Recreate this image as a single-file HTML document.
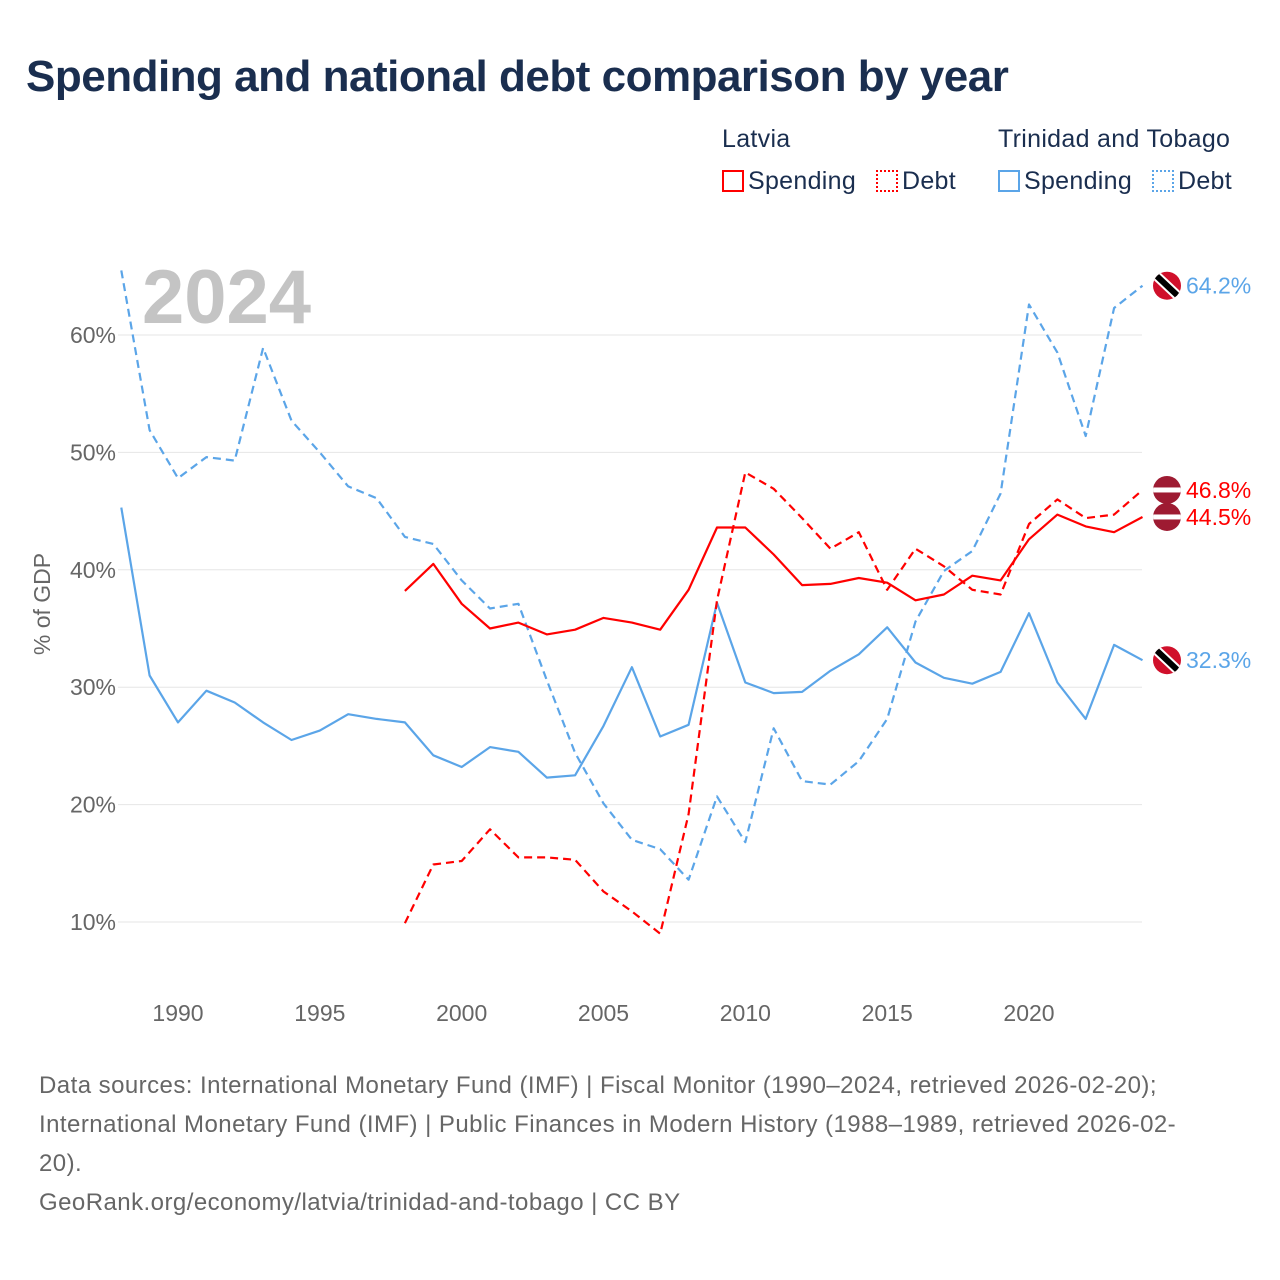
<!DOCTYPE html>
<html><head><meta charset="utf-8"><style>
body{margin:0;background:#fff;font-family:"Liberation Sans",sans-serif;}
#wrap{position:relative;width:1280px;height:1280px;overflow:hidden;}
h1{position:absolute;left:26px;top:52px;margin:0;font-size:44px;font-weight:bold;color:#1a2e4f;letter-spacing:-0.5px;}
.lg{position:absolute;font-size:25px;color:#1a2e4f;letter-spacing:0.3px;}
.box{display:inline-block;width:22px;height:22px;vertical-align:-3px;margin-right:4px;box-sizing:border-box;}
.foot{position:absolute;left:39px;top:1066px;font-size:24px;line-height:39px;color:#666;width:1240px;white-space:nowrap;letter-spacing:0.45px;}
</style></head><body>
<div id="wrap">
<h1>Spending and national debt comparison by year</h1>
<div class="lg" style="left:722px;top:125px">Latvia</div>
<div class="lg" style="left:998px;top:125px">Trinidad and Tobago</div>
<div class="lg" style="left:722px;top:167px"><span class="box" style="border:2px solid #f00"></span>Spending</div>
<div class="lg" style="left:876px;top:167px"><span class="box" style="border:2px dotted #f00"></span>Debt</div>
<div class="lg" style="left:998px;top:167px"><span class="box" style="border:2px solid #5ba5e8"></span>Spending</div>
<div class="lg" style="left:1152px;top:167px"><span class="box" style="border:2px dotted #5ba5e8"></span>Debt</div>
<svg id="chart" width="1280" height="1280" style="position:absolute;left:0;top:0"></svg>
<div class="foot">Data sources: International Monetary Fund (IMF) | Fiscal Monitor (1990–2024, retrieved 2026-02-20);<br>International Monetary Fund (IMF) | Public Finances in Modern History (1988–1989, retrieved 2026-02-<br>20).<br>GeoRank.org/economy/latvia/trinidad-and-tobago | CC BY</div>
</div>
<script>
const ttDebt=[65.5,51.9,47.8,49.6,49.3,58.9,52.7,50.0,47.1,46.1,42.8,42.2,39.1,36.7,37.1,30.6,24.4,20.1,17.0,16.2,13.6,20.7,16.8,26.5,22.0,21.7,23.7,27.3,35.6,39.9,41.6,46.5,62.6,58.5,51.4,62.3,64.2];
const ttSpend=[45.3,31.0,27.0,29.7,28.7,27.0,25.5,26.3,27.7,27.3,27.0,24.2,23.2,24.9,24.5,22.3,22.5,26.7,31.7,25.8,26.8,37.2,30.4,29.5,29.6,31.4,32.8,35.1,32.1,30.8,30.3,31.3,36.3,30.4,27.3,33.6,32.3];
const lvSpend=[38.2,40.5,37.1,35.0,35.5,34.5,34.9,35.9,35.5,34.9,38.3,43.6,43.6,41.3,38.7,38.8,39.3,38.9,37.4,37.9,39.5,39.1,42.6,44.7,43.7,43.2,44.5];
const lvDebt=[9.9,14.9,15.2,17.9,15.5,15.5,15.3,12.6,10.9,9.0,19.2,37.4,48.3,46.9,44.4,41.8,43.2,38.3,41.8,40.3,38.3,37.9,43.9,46.0,44.4,44.7,46.8];
const yTicks=[10,20,30,40,50,60];
const xTicks=[1990,1995,2000,2005,2010,2015,2020];
const X=y=>178+(y-1990)*(1029-178)/30;
const Y=v=>922-(v-10)*11.74;
const svg=document.getElementById('chart');const NS='http://www.w3.org/2000/svg';
function el(t,a){const e=document.createElementNS(NS,t);for(const k in a)e.setAttribute(k,a[k]);svg.appendChild(e);return e;}
yTicks.forEach(v=>{
 const l=el('line',{x1:118,x2:1142,y1:Y(v),y2:Y(v),stroke:'#e6e6e6','stroke-width':1});
 
 
 const t=el('text',{x:116,y:Y(v)+8,'text-anchor':'end','font-size':23,fill:'#666','font-family':'Liberation Sans'});t.textContent=v+'%';
 
 
});
xTicks.forEach(y=>{
 const t=el('text',{x:X(y),y:1021,'text-anchor':'middle','font-size':23,fill:'#666','font-family':'Liberation Sans'});t.textContent=y;
 
 
});
const yt=el('text',{x:0,y:0,transform:'translate(50,604) rotate(-90)','text-anchor':'middle','font-size':23,fill:'#666','font-family':'Liberation Sans'});yt.textContent='% of GDP';


const yr=el('text',{x:142,y:323,'font-size':76,'font-weight':'bold',fill:'#c4c4c4','font-family':'Liberation Sans'});yr.textContent='2024';


function line(arr,start,color,dash,name){
 const pts=arr.map((v,i)=>X(start+i).toFixed(1)+','+Y(v).toFixed(1)).join(' ');
 const p=el('polyline',{points:pts,fill:'none',stroke:color,'stroke-width':2.2,'stroke-dasharray':dash?'8,5':'none','stroke-linejoin':'round'});
 
 
}
line(ttDebt,1988,'#5ba5e8',true,'tt-debt-line');
line(ttSpend,1988,'#5ba5e8',false,'tt-spending-line');
line(lvDebt,1998,'#f00',true,'latvia-debt-line');
line(lvSpend,1998,'#f00',false,'latvia-spending-line');
function endLabel(v,color,flag,name){
 const cy=Y(v);
 const g=document.createElementNS(NS,'g');svg.appendChild(g);
 
 
 const cp='cp'+name;
 g.innerHTML=flag==='tt'?
 `<clipPath id="${cp}"><circle cx="1167" cy="${cy}" r="14"/></clipPath><g clip-path="url(#${cp})"><rect x="1150" y="${cy-16}" width="34" height="32" fill="#d0102b"/><line x1="1150" y1="${cy-16}" x2="1184" y2="${cy+16}" stroke="#fff" stroke-width="10"/><line x1="1150" y1="${cy-16}" x2="1184" y2="${cy+16}" stroke="#000" stroke-width="6"/></g>`
 :`<clipPath id="${cp}"><circle cx="1167" cy="${cy}" r="14"/></clipPath><g clip-path="url(#${cp})"><rect x="1150" y="${cy-16}" width="34" height="32" fill="#9e1b32"/><rect x="1150" y="${cy-2.5}" width="34" height="5" fill="#fff"/></g>`;
 const t=el('text',{x:1186,y:cy+8,'font-size':23,fill:color,'font-family':'Liberation Sans'});t.textContent=v.toFixed(1)+'%';
 
 
}
endLabel(ttDebt[ttDebt.length-1],'#5ba5e8','tt','tt-debt-end');
endLabel(lvDebt[lvDebt.length-1],'#f00','lv','latvia-debt-end');
endLabel(lvSpend[lvSpend.length-1],'#f00','lv','latvia-spending-end');
endLabel(ttSpend[ttSpend.length-1],'#5ba5e8','tt','tt-spending-end');
</script>
</body></html>
